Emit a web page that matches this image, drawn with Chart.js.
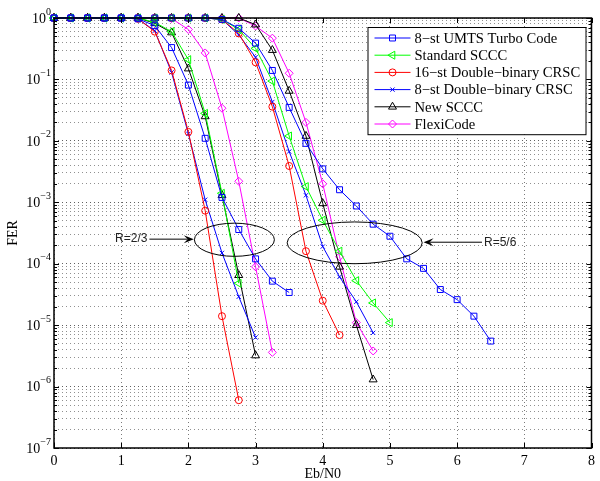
<!DOCTYPE html>
<html>
<head>
<meta charset="utf-8">
<script src="https://cdn.jsdelivr.net/npm/chart.js@4.4.1/dist/chart.umd.min.js"></script>
<style>
  html, body { margin: 0; background: #fff; }
  #wrap { width: 600px; height: 481px; }
</style>
</head>
<body>
<div id="wrap"><canvas id="fer"></canvas></div>
<script>
// Eb/N0 steps (dB); every FER list below starts at 0 dB
const ebn0 = [0, 0.25, 0.5, 0.75, 1, 1.25, 1.5, 1.75, 2, 2.25, 2.5, 2.75, 3, 3.25,
  3.5, 3.75, 4, 4.25, 4.5, 4.75, 5, 5.25, 5.5, 5.75, 6, 6.25, 6.5]
const xTicks = [0, 1, 2, 3, 4, 5, 6, 7, 8]
const ferDecades = [0, -1, -2, -3, -4, -5, -6, -7]

// R=2/3
const umtsR23 = [1, 1, 1, 1, 1, 0.97, 0.75, 0.33, 0.081, 0.011, 1.2e-3, 3.6e-4, 1.2e-4, 5.2e-5, 3.4e-5]
const sccR23 = [1, 1, 1, 1, 1, 1, 0.85, 0.6, 0.21, 0.028, 1.4e-3, 4.8e-5]
const crsc16R23 = [1, 1, 1, 1, 1, 0.97, 0.6, 0.14, 0.014, 7.3e-4, 1.4e-5, 6e-7]
const crsc8R23 = [1, 1, 1, 1, 1, 0.97, 0.62, 0.13, 0.013, 1.1e-3, 1.5e-4, 2.9e-5, 6.3e-6]
const newSccR23 = [1, 1, 1, 1, 1, 1, 0.82, 0.58, 0.15, 0.025, 1.3e-3, 6.5e-5, 3.2e-6]
const flexiR23 = [1, 1, 1, 1, 1, 1, 1, 0.98, 0.65, 0.27, 0.034, 2.2e-3, 8.9e-5, 3.6e-6]

// R=5/6
const umtsR56 = [1, 1, 1, 1, 1, 1, 1, 1, 1, 1, 0.95, 0.68, 0.39, 0.14, 0.035, 9.1e-3, 3.5e-3,
  1.6e-3, 8.7e-4, 4.4e-4, 2.8e-4, 1.2e-4, 8.4e-5, 3.8e-5, 2.6e-5, 1.4e-5, 5.5e-6]
const sccR56 = [1, 1, 1, 1, 1, 1, 1, 1, 1, 1, 0.95, 0.65, 0.32, 0.094, 0.012, 1.8e-3, 5.1e-4,
  1.6e-4, 5.3e-5, 2.3e-5, 1.1e-5]
const crsc16R56 = [1, 1, 1, 1, 1, 1, 1, 1, 1, 1, 0.95, 0.56, 0.19, 0.036, 3.9e-3, 1.6e-4, 2.5e-5, 6.9e-6]
const crsc8R56 = [1, 1, 1, 1, 1, 1, 1, 1, 1, 1, 0.95, 0.53, 0.23, 0.043, 6.7e-3, 1.3e-3, 1.9e-4,
  6.1e-5, 2.4e-5, 7.5e-6]
const newSccR56 = [1, 1, 1, 1, 1, 1, 1, 1, 1, 1, 1, 1, 0.78, 0.3, 0.065, 0.012, 9.6e-4, 8.9e-5, 1.0e-5, 1.3e-6]
const flexiR56 = [1, 1, 1, 1, 1, 1, 1, 1, 1, 1, 1, 1, 0.74, 0.47, 0.126, 0.02, 2.0e-3, 1.3e-4, 1.1e-5, 3.8e-6]

const series = [
  { label: "8\u2212st UMTS Turbo Code", color: "#0000ff", style: "rect", radius: 4.2, rotation: 0, r23: umtsR23, r56: umtsR56 },
  { label: "Standard SCCC", color: "#00ff00", style: "triangle", radius: 4.6, rotation: -90, r23: sccR23, r56: sccR56 },
  { label: "16\u2212st Double\u2212binary CRSC", color: "#ff0000", style: "circle", radius: 3.5, rotation: 0, r23: crsc16R23, r56: crsc16R56 },
  { label: "8\u2212st Double\u2212binary CRSC", color: "#0000ff", style: "crossRot", radius: 3, rotation: 0, r23: crsc8R23, r56: crsc8R56 },
  { label: "New SCCC", color: "#000000", style: "triangle", radius: 4.6, rotation: 0, r23: newSccR23, r56: newSccR56 },
  { label: "FlexiCode", color: "#ff00ff", style: "rectRot", radius: 4, rotation: 0, r23: flexiR23, r56: flexiR56 }
]

const rateNotes = [
  { text: "R=2/3", side: "left", ell: [2.09, 3.28, -3.34, -3.88], tail: 1.42, tip: 2.08, at: -3.6 },
  { text: "R=5/6", side: "right", ell: [3.47, 5.48, -3.32, -4.0], tail: 6.37, tip: 5.5, at: -3.65 }
]

const serif = "'Liberation Serif', 'Times New Roman', serif"

const datasets = []
series.forEach((s) => {
  ;[s.r23, s.r56].forEach((fer, k) => {
    datasets.push({
      label: s.label,
      inLegend: k === 0,
      data: fer.map((v, i) => ({ x: ebn0[i], y: v })),
      borderColor: s.color,
      backgroundColor: s.color,
      borderWidth: 1,
      pointStyle: s.style,
      pointRadius: s.radius,
      pointRotation: s.rotation,
      pointBorderColor: s.color,
      pointBackgroundColor: "rgba(0,0,0,0)",
      pointBorderWidth: 1,
      tension: 0,
      clip: false
    })
  })
})

const frame = {
  id: "frame",
  afterDatasetsDraw(chart) {
    const { ctx, chartArea: a, scales } = chart
    const x = scales.x
    const y = scales.y
    ctx.save()
    ctx.strokeStyle = "#000"
    ctx.lineWidth = 1
    ctx.beginPath()
    y.ticks.forEach((t) => {
      const py = Math.round(y.getPixelForValue(t.value)) + 0.5
      const len = t.major ? 5 : 3
      ctx.moveTo(a.left, py); ctx.lineTo(a.left + len, py)
      ctx.moveTo(a.right, py); ctx.lineTo(a.right - len, py)
    })
    xTicks.forEach((v) => {
      const px = Math.round(x.getPixelForValue(v)) + 0.5
      ctx.moveTo(px, a.bottom); ctx.lineTo(px, a.bottom - 5)
      ctx.moveTo(px, a.top); ctx.lineTo(px, a.top + 5)
    })
    ctx.stroke()
    ctx.lineWidth = 1.5
    ctx.strokeRect(a.left, a.top, a.right - a.left, a.bottom - a.top)

    // y tick labels: 10 with a raised exponent
    ctx.fillStyle = "#000"
    ctx.textBaseline = "middle"
    ferDecades.forEach((d) => {
      const py = y.getPixelForValue(Math.pow(10, d))
      const exp = d === 0 ? "0" : "\u2212" + (-d)
      ctx.font = "10px " + serif
      const ew = ctx.measureText(exp).width
      ctx.textAlign = "left"
      ctx.fillText(exp, a.left - 3 - ew, py - 6)
      ctx.font = "14px " + serif
      ctx.textAlign = "right"
      ctx.fillText("10", a.left - 3 - ew, py + 1)
    })
    ctx.restore()
  }
}

const notes = {
  id: "notes",
  afterDatasetsDraw(chart) {
    const { ctx, scales: { x, y } } = chart
    ctx.save()
    ctx.strokeStyle = "#000"
    ctx.fillStyle = "#000"
    ctx.lineWidth = 1
    rateNotes.forEach((n) => {
      const x0 = x.getPixelForValue(n.ell[0])
      const x1 = x.getPixelForValue(n.ell[1])
      const y0 = y.getPixelForValue(Math.pow(10, n.ell[2]))
      const y1 = y.getPixelForValue(Math.pow(10, n.ell[3]))
      ctx.beginPath()
      ctx.ellipse((x0 + x1) / 2, (y0 + y1) / 2, (x1 - x0) / 2, (y1 - y0) / 2, 0, 0, Math.PI * 2)
      ctx.stroke()

      const py = y.getPixelForValue(Math.pow(10, n.at))
      const tx = x.getPixelForValue(n.tail)
      const hx = x.getPixelForValue(n.tip)
      const dir = hx > tx ? 1 : -1
      ctx.beginPath()
      ctx.moveTo(tx, py); ctx.lineTo(hx - dir * 6, py)
      ctx.stroke()
      ctx.beginPath()
      ctx.moveTo(hx, py)
      ctx.lineTo(hx - dir * 10, py - 4)
      ctx.lineTo(hx - dir * 6, py)
      ctx.lineTo(hx - dir * 10, py + 4)
      ctx.closePath()
      ctx.fill()

      ctx.font = "12px 'Liberation Sans', Arial, sans-serif"
      ctx.fillStyle = "#222"
      ctx.textBaseline = "middle"
      ctx.textAlign = n.side === "left" ? "right" : "left"
      ctx.fillText(n.text, tx + (n.side === "left" ? -2 : 2), py)
      ctx.fillStyle = "#000"
    })
    ctx.restore()
  }
}

const legendBox = {
  id: "legendBox",
  afterDraw(chart) {
    const { ctx, chartArea: a } = chart
    const items = chart.data.datasets.filter((d) => d.inLegend)
    const right = a.right - 6
    const left = right - 218
    const top = a.top + 9
    const rowH = 17.2
    const h = rowH * items.length + 4
    ctx.save()
    ctx.fillStyle = "#fff"
    ctx.fillRect(left, top, right - left, h)
    ctx.strokeStyle = "#000"
    ctx.lineWidth = 1
    ctx.strokeRect(left + 0.5, top + 0.5, right - left, h)
    items.forEach((d, i) => {
      const cy = top + 11 + i * rowH
      ctx.strokeStyle = d.borderColor
      ctx.lineWidth = 1
      ctx.beginPath()
      ctx.moveTo(left + 7, cy); ctx.lineTo(left + 43, cy)
      ctx.stroke()
      ctx.fillStyle = "rgba(0,0,0,0)"
      Chart.helpers.drawPoint(ctx, {
        pointStyle: d.pointStyle, radius: d.pointRadius, rotation: d.pointRotation, borderWidth: 1
      }, left + 25, cy)
      ctx.fillStyle = "#000"
      ctx.font = "14.6px " + serif
      ctx.textAlign = "left"
      ctx.textBaseline = "middle"
      ctx.fillText(d.label, left + 47, cy + 1)
    })
    ctx.restore()
  }
}

const yTickValues = []
ferDecades.forEach((d) => {
  for (let m = 1; m <= 9; m++) {
    const v = m * Math.pow(10, d)
    if (v <= 1) yTickValues.push({ value: v, major: m === 1 })
  }
})

new Chart(document.getElementById("fer"), {
  type: "line",
  data: { datasets },
  options: {
    responsive: true,
    maintainAspectRatio: false,
    animation: false,
    layout: { padding: { top: 18, right: 7, left: 0, bottom: 0 } },
    scales: {
      x: {
        type: "linear",
        min: 0,
        max: 8,
        afterBuildTicks: (scale) => { scale.ticks = xTicks.map((v) => ({ value: v })) },
        afterFit: (scale) => { scale.height = 33 },
        ticks: { padding: 5, color: "#000", font: { family: serif, size: 14 } },
        grid: { color: "#7a7a7a", drawTicks: false, tickLength: 0 },
        border: { display: false, dash: [1, 3] },
        title: {
          display: true, text: "Eb/N0", color: "#000",
          font: { family: serif, size: 14, lineHeight: 1 }, padding: { top: 0, bottom: 0 }
        }
      },
      y: {
        type: "logarithmic",
        min: 1e-7,
        max: 1,
        afterBuildTicks: (scale) => { scale.ticks = yTickValues.map((t) => ({ ...t })) },
        afterFit: (scale) => { scale.width = 54 },
        ticks: { display: false },
        grid: {
          color: (c) => (c.tick && c.tick.major ? "#606060" : "#909090"),
          drawTicks: false,
          tickLength: 0
        },
        border: { display: false, dash: [1, 3] },
        title: {
          display: true, text: "FER", color: "#000",
          font: { family: serif, size: 14 }, padding: { top: 5, bottom: 0 }
        }
      }
    },
    plugins: {
      legend: { display: false },
      tooltip: { enabled: false }
    }
  },
  plugins: [frame, notes, legendBox]
})
</script>
</body>
</html>
